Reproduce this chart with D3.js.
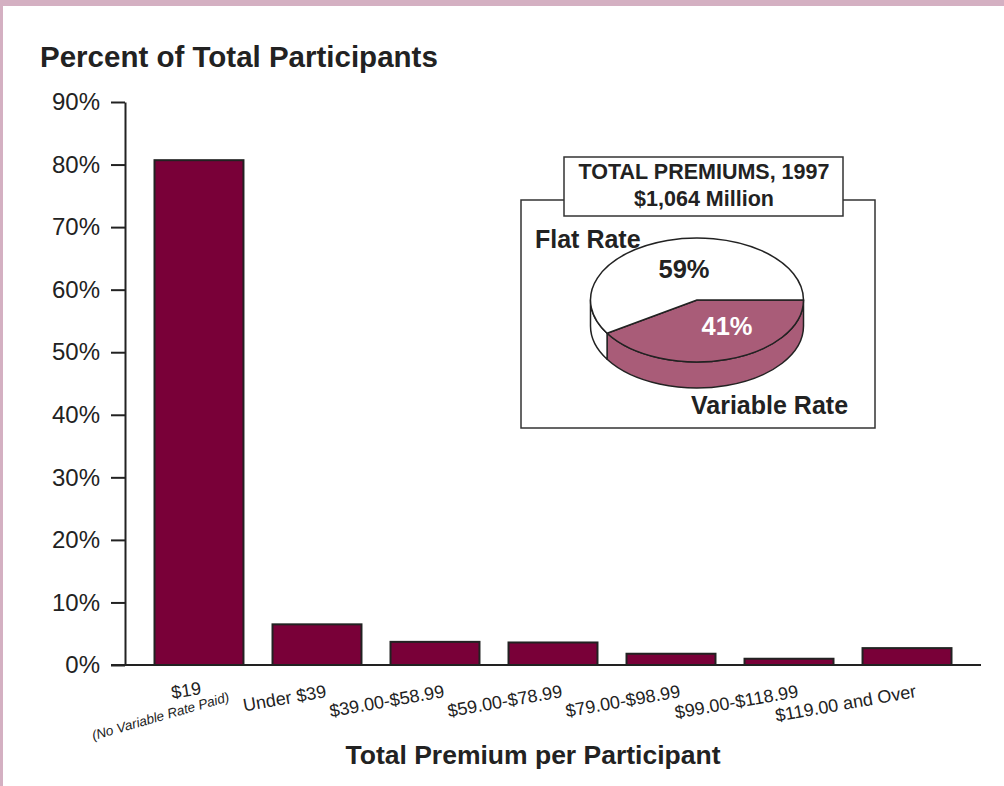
<!DOCTYPE html>
<html>
<head>
<meta charset="utf-8">
<script src="https://cdn.jsdelivr.net/npm/d3@7"></script>
<style>
  body { margin: 0; background: #fff; }
  svg { display: block; font-family: "Liberation Sans", Arial, sans-serif; }
</style>
</head>
<body>
<div id="chart"></div>
<script>
// chart data
var categories = ["$19", "Under $39", "$39.00-$58.99", "$59.00-$78.99", "$79.00-$98.99", "$99.00-$118.99", "$119.00 and Over"];
var subLabels = ["(No Variable Rate Paid)", "", "", "", "", "", ""];
var percents = [80.7, 6.5, 3.7, 3.6, 1.8, 1.0, 2.7];
var yTicks = [0, 10, 20, 30, 40, 50, 60, 70, 80, 90];

// inset pie data
var pieLabels = ["Variable Rate", "Flat Rate"];
var pieValues = [41, 59];

var svgWidth = 1004;
var svgHeight = 786;

var svg = d3.select("#chart")
  .append("svg")
  .attr("width", svgWidth)
  .attr("height", svgHeight);

// pink frame
svg.append("rect").attr("x", 0).attr("y", 0).attr("width", svgWidth).attr("height", 6).attr("fill", "#d4b0c2");
svg.append("rect").attr("x", 0).attr("y", 0).attr("width", 3).attr("height", svgHeight).attr("fill", "#d4b0c2");

var axisX = 125;
var yScale = d3.scaleLinear().domain([0, 90]).range([665, 102]);
var xScale = d3.scaleBand()
  .domain(categories)
  .range([axisX, 981])
  .paddingInner(0.246)
  .paddingOuter(0.25);

// y axis
var leftAxis = d3.axisLeft(yScale)
  .tickValues(yTicks)
  .tickFormat(d => d + "%")
  .tickSize(14)
  .tickSizeOuter(0)
  .tickPadding(11);

var yAxisG = svg.append("g")
  .attr("transform", `translate(${axisX},0)`)
  .call(leftAxis);
yAxisG.select(".domain").attr("stroke", "#222").attr("stroke-width", 2);
yAxisG.selectAll(".tick line").attr("stroke", "#222").attr("stroke-width", 2);
yAxisG.selectAll(".tick text")
  .attr("font-size", 24)
  .attr("font-family", "Liberation Sans, Arial, sans-serif")
  .attr("fill", "#222");

// bars
svg.selectAll(".bar")
  .data(percents)
  .enter()
  .append("rect")
  .attr("class", "bar")
  .attr("x", (d, i) => xScale(categories[i]))
  .attr("y", d => yScale(d))
  .attr("width", xScale.bandwidth())
  .attr("height", d => yScale(0) - yScale(d))
  .attr("fill", "#790038")
  .attr("stroke", "#222")
  .attr("stroke-width", 2);

// baseline
svg.append("line")
  .attr("x1", axisX - 14).attr("x2", xScale.range()[1])
  .attr("y1", yScale(0)).attr("y2", yScale(0))
  .attr("stroke", "#222").attr("stroke-width", 2);

// x labels
categories.forEach(function(c, i) {
  var cx = xScale(c) + xScale.bandwidth() / 2;
  var hasSub = !!subLabels[i];
  svg.append("text")
    .attr("transform", hasSub
      ? `translate(${cx + 3},${yScale(0) + 29}) rotate(-9)`
      : `translate(${cx + 10},${yScale(0) + 32}) rotate(-10)`)
    .attr("text-anchor", "end")
    .attr("font-size", 18)
    .attr("fill", "#222")
    .text(c);
  if (hasSub) {
    svg.append("text")
      .attr("transform", `translate(${cx + 31},${yScale(0) + 36}) rotate(-16)`)
      .attr("text-anchor", "end")
      .attr("font-size", 13.5)
      .attr("font-style", "italic")
      .attr("fill", "#222")
      .text(subLabels[i]);
  }
});

// titles
svg.append("text")
  .attr("x", 40).attr("y", 67)
  .attr("font-size", 29.5).attr("font-weight", "bold").attr("fill", "#222")
  .text("Percent of Total Participants");

svg.append("text")
  .attr("x", 533).attr("y", 764)
  .attr("text-anchor", "middle")
  .attr("font-size", 26.5).attr("font-weight", "bold").attr("fill", "#222")
  .text("Total Premium per Participant");

// inset box
svg.append("rect")
  .attr("x", 521).attr("y", 200).attr("width", 354).attr("height", 228)
  .attr("fill", "#fff").attr("stroke", "#333").attr("stroke-width", 1.5);
svg.append("rect")
  .attr("x", 564).attr("y", 157).attr("width", 279).attr("height", 59)
  .attr("fill", "#fff").attr("stroke", "#333").attr("stroke-width", 1.5);
svg.append("text")
  .attr("x", 704).attr("y", 179).attr("text-anchor", "middle")
  .attr("font-size", 21.5).attr("font-weight", "bold").attr("fill", "#222")
  .text("TOTAL PREMIUMS, 1997");
svg.append("text")
  .attr("x", 704).attr("y", 206).attr("text-anchor", "middle")
  .attr("font-size", 21.5).attr("font-weight", "bold").attr("fill", "#222")
  .text("$1,064 Million");

// 3D pie
var pcx = 697, pcy = 300, rx = 106.5, ry = 62, depth = 26;
var pieColors = ["#a95c78", "#ffffff"];
var pie = d3.pie().sort(null).startAngle(Math.PI / 2).endAngle(Math.PI / 2 + 2 * Math.PI);
var arcs = pie(pieValues);

function pt(a, dy) {
  return [pcx + rx * Math.sin(a), pcy - ry * Math.cos(a) + (dy || 0)];
}

var pieG = svg.append("g");

// side walls (front half only: angles PI/2 .. 3PI/2)
arcs.forEach(function(d, i) {
  var s = Math.max(d.startAngle, Math.PI / 2);
  var e = Math.min(d.endAngle, 3 * Math.PI / 2);
  if (e <= s) return;
  var p0 = pt(s), p1 = pt(e), p2 = pt(e, depth), p3 = pt(s, depth);
  var dAttr = `M${p0[0]},${p0[1]} A${rx},${ry} 0 0 1 ${p1[0]},${p1[1]} L${p2[0]},${p2[1]} A${rx},${ry} 0 0 0 ${p3[0]},${p3[1]} Z`;
  pieG.append("path")
    .attr("d", dAttr)
    .attr("fill", pieColors[i])
    .attr("stroke", "#222")
    .attr("stroke-width", 1.5)
    .attr("stroke-linejoin", "round");
});

// top faces
arcs.forEach(function(d, i) {
  var p0 = pt(d.startAngle), p1 = pt(d.endAngle);
  var large = (d.endAngle - d.startAngle) > Math.PI ? 1 : 0;
  pieG.append("path")
    .attr("d", `M${pcx},${pcy} L${p0[0]},${p0[1]} A${rx},${ry} 0 ${large} 1 ${p1[0]},${p1[1]} Z`)
    .attr("fill", pieColors[i])
    .attr("stroke", "#222")
    .attr("stroke-width", 1.5)
    .attr("stroke-linejoin", "round");
});

// pie labels
svg.append("text")
  .attr("x", 684).attr("y", 278).attr("text-anchor", "middle")
  .attr("font-size", 25.5).attr("font-weight", "bold").attr("fill", "#222")
  .text(pieValues[1] + "%");
svg.append("text")
  .attr("x", 727).attr("y", 335).attr("text-anchor", "middle")
  .attr("font-size", 25.5).attr("font-weight", "bold").attr("fill", "#fff")
  .text(pieValues[0] + "%");
svg.append("text")
  .attr("x", 535).attr("y", 248)
  .attr("font-size", 25).attr("font-weight", "bold").attr("fill", "#222")
  .text(pieLabels[1]);
svg.append("text")
  .attr("x", 691).attr("y", 414)
  .attr("font-size", 25).attr("font-weight", "bold").attr("fill", "#222")
  .text(pieLabels[0]);
</script>
</body>
</html>
